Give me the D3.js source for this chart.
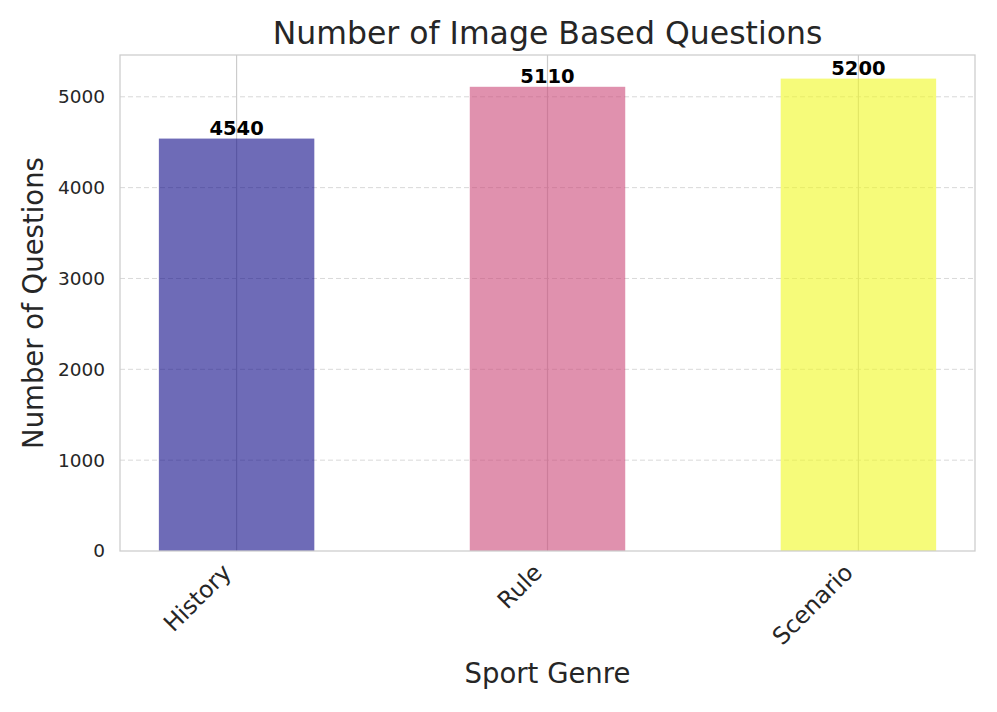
<!DOCTYPE html>
<html>
<head>
<meta charset="utf-8">
<script src="https://cdn.jsdelivr.net/npm/d3@7"></script>
<style>
  body { margin: 0; background: #fff; }
  text { font-family: "DejaVu Sans", sans-serif; fill: #262626; }
</style>
</head>
<body>
<script>
var genres = ["History", "Rule", "Scenario"];
var counts = [4540, 5110, 5200];
var barColors = ["#0d0887", "#cc4778", "#f0f921"];
var yTicks = [0, 1000, 2000, 3000, 4000, 5000];

var W = 997, H = 712;
var margin = {top: 55, right: 22, bottom: 161, left: 120};
var width = W - margin.left - margin.right,
    height = H - margin.top - margin.bottom;

// x domain works like matplotlib: bars at 0,1,2 width 0.5, 5% margin
var x = d3.scaleLinear().domain([-0.375, 2.375]).range([0, width]);
var y = d3.scaleLinear().domain([0, 5460]).range([height, 0]);

var svg = d3.select("body").append("svg")
    .attr("width", W)
    .attr("height", H);

var g = svg.append("g")
    .attr("transform", "translate(" + margin.left + "," + margin.top + ")");

// horizontal dashed grid
g.selectAll(".hgrid")
  .data(yTicks.filter(function(d) { return d > 0; }))
  .enter().append("line")
    .attr("x1", 0).attr("x2", width)
    .attr("y1", function(d) { return y(d); })
    .attr("y2", function(d) { return y(d); })
    .attr("stroke", "#d9d9d9")
    .attr("stroke-width", 1)
    .attr("stroke-dasharray", "5,3");

// vertical grid at categories
g.selectAll(".vgrid")
  .data(genres)
  .enter().append("line")
    .attr("x1", function(d, i) { return x(i); })
    .attr("x2", function(d, i) { return x(i); })
    .attr("y1", 0).attr("y2", height)
    .attr("stroke", "#cccccc")
    .attr("stroke-width", 1.2);

// bars
g.selectAll(".bar")
  .data(counts)
  .enter().append("rect")
    .attr("x", function(d, i) { return x(i - 0.25); })
    .attr("width", x(0.5) - x(0))
    .attr("y", function(d) { return y(d); })
    .attr("height", function(d) { return height - y(d); })
    .attr("fill", function(d, i) { return barColors[i]; })
    .attr("fill-opacity", 0.6);

// value labels
g.selectAll(".val")
  .data(counts)
  .enter().append("text")
    .attr("x", function(d, i) { return x(i); })
    .attr("y", function(d) { return y(d) - 4; })
    .attr("text-anchor", "middle")
    .style("font-size", "19.5px")
    .style("font-weight", "bold")
    .style("fill", "#000")
    .text(function(d) { return d; });

// frame
g.append("rect")
  .attr("width", width).attr("height", height)
  .attr("fill", "none")
  .attr("stroke", "#cccccc")
  .attr("stroke-width", 1.25);

// y tick labels
g.selectAll(".ytick")
  .data(yTicks)
  .enter().append("text")
    .attr("x", -15)
    .attr("y", function(d) { return y(d); })
    .attr("dy", "0.35em")
    .attr("text-anchor", "end")
    .style("font-size", "18.5px")
    .text(function(d) { return d; });

// x tick labels, rotated
g.selectAll(".xtick")
  .data(genres)
  .enter().append("text")
    .attr("transform", function(d, i) {
      return "translate(" + (x(i) - 4) + "," + (height + 23) + ") rotate(-45)";
    })
    .attr("text-anchor", "end")
    .style("font-size", "23.5px")
    .text(function(d) { return d; });

// titles
svg.append("text")
  .attr("x", margin.left + width / 2)
  .attr("y", 44)
  .attr("text-anchor", "middle")
  .style("font-size", "31.5px")
  .text("Number of Image Based Questions");

svg.append("text")
  .attr("x", margin.left + width / 2)
  .attr("y", 683)
  .attr("text-anchor", "middle")
  .style("font-size", "27.5px")
  .text("Sport Genre");

svg.append("text")
  .attr("transform", "translate(43," + (margin.top + height / 2) + ") rotate(-90)")
  .attr("text-anchor", "middle")
  .style("font-size", "27.5px")
  .text("Number of Questions");
</script>
</body>
</html>
